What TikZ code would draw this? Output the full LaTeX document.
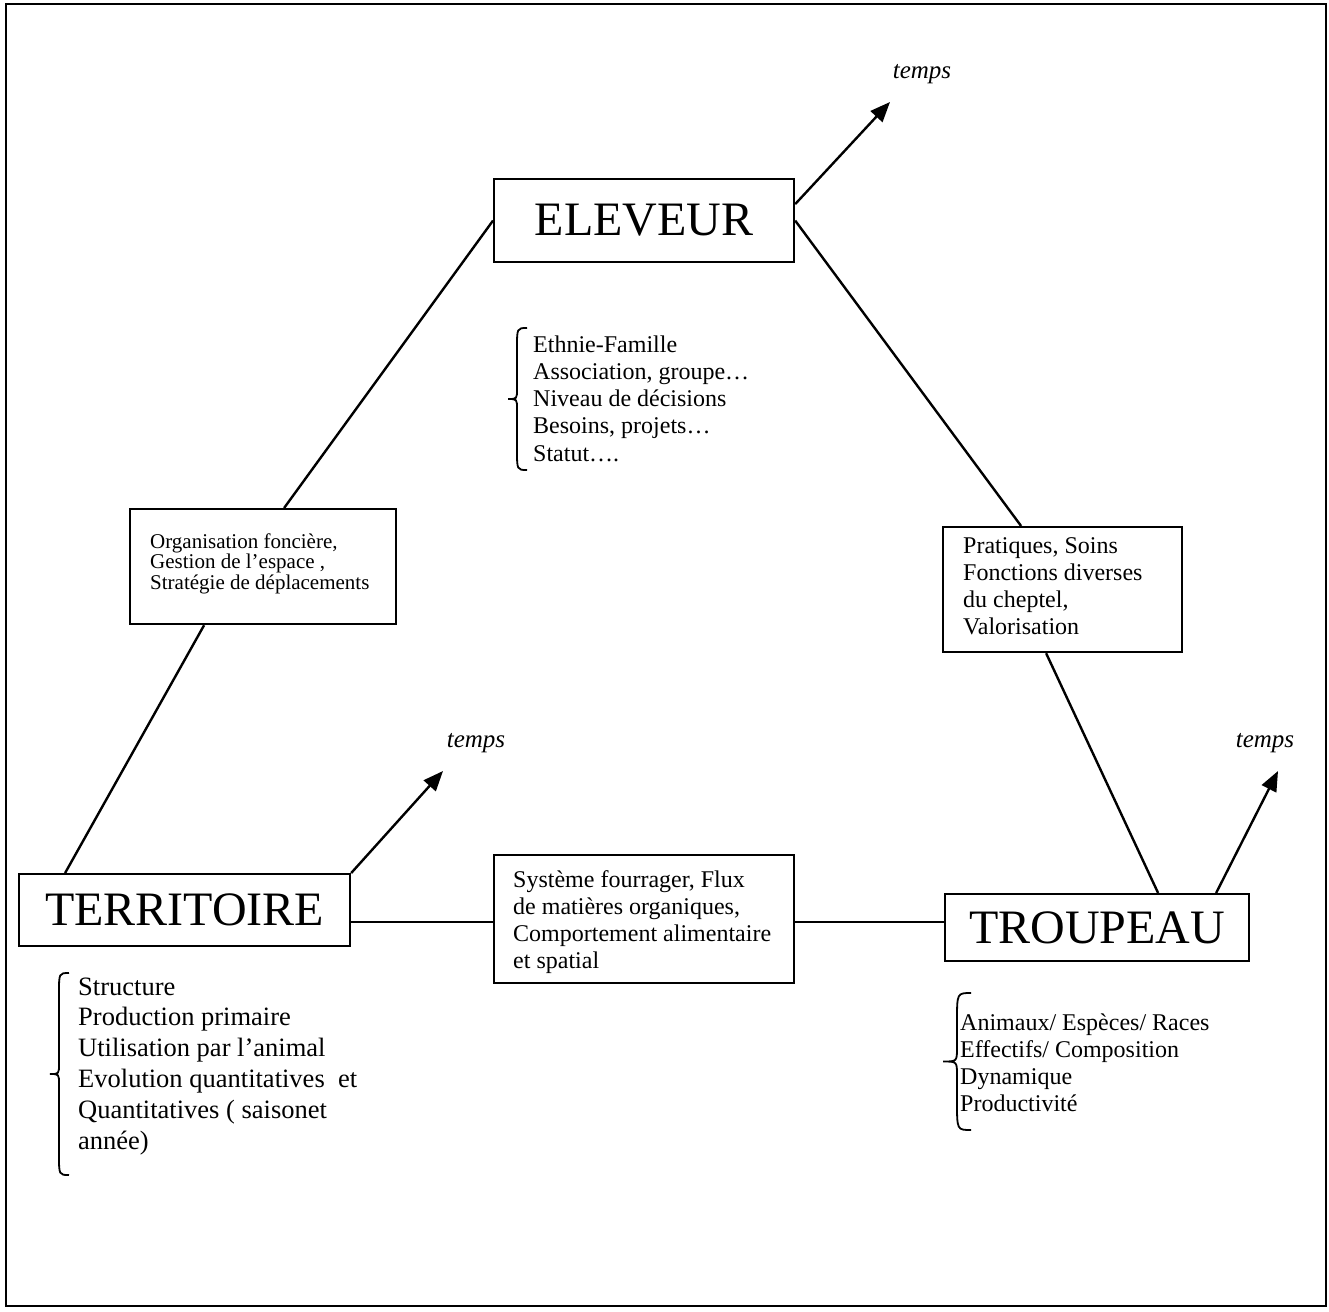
\documentclass[tikz,border=0pt]{standalone}
\usepackage{fontspec}
\setmainfont{Liberation Serif}
\usetikzlibrary{arrows.meta}
\newcommand\mybrace[5]{%
  \draw[bracestyle] ({#1+#4},#2) .. controls (#1,#2) and (#1,#2) .. (#1,{#2+2*#4})
    -- (#1,{(#2+#3)/2-#4}) .. controls (#1,{(#2+#3)/2}) and (#1,{(#2+#3)/2}) .. ({#1-#5},{(#2+#3)/2})
    .. controls (#1,{(#2+#3)/2}) and (#1,{(#2+#3)/2}) .. (#1,{(#2+#3)/2+#4})
    -- (#1,{#3-2*#4}) .. controls (#1,#3) and (#1,#3) .. ({#1+#4},#3);}
\begin{document}
\begin{tikzpicture}[x=1pt,y=-1pt,
  boxstyle/.style={draw, line width=2.2pt, inner sep=0pt, anchor=north west},
  bigbox/.style={boxstyle, font=\fontsize{48}{56}\selectfont},
  conn/.style={line width=2.4pt},
  arr/.style={line width=2.4pt, -{Triangle[length=20pt,width=16pt]}},
  txt/.style={anchor=base west, inner sep=0pt},
  tlabel/.style={inner sep=0pt, font=\fontsize{25}{28}\selectfont\itshape},
  bracestyle/.style={line width=1.8pt}]
\useasboundingbox (0,0) rectangle (1329,1311);
\draw[line width=2pt] (6,4) rectangle (1326,1306);

% main boxes
\node[bigbox, minimum width=300pt, minimum height=83pt] (elev) at (493,178) {ELEVEUR};
\node[bigbox, minimum width=331pt, minimum height=72pt] (terr) at (18,873) {TERRITOIRE};
\node[bigbox, minimum width=304pt, minimum height=67pt] (trou) at (944,893) {TROUPEAU};

% relation boxes
\node[boxstyle, minimum width=266pt, minimum height=115pt] (org) at (129,508) {};
\node[boxstyle, minimum width=239pt, minimum height=125pt] (prat) at (942,526) {};
\node[boxstyle, minimum width=300pt, minimum height=128pt] (sys) at (493,854) {};

\node[txt] (orgtxt) at (150,548) {\fontsize{21}{20.7}\selectfont\lineskiplimit=-100pt\vtop{%
  \hbox{Organisation foncière,}\hbox{Gestion de l’espace ,}\hbox{Stratégie de déplacements}}};
\node[txt] (prattxt) at (963,553) {\fontsize{24}{27}\selectfont\lineskiplimit=-100pt\vtop{%
  \hbox{Pratiques, Soins}\hbox{Fonctions diverses}\hbox{du cheptel,}\hbox{Valorisation}}};
\node[txt] (systxt) at (513,887) {\fontsize{24}{27}\selectfont\lineskiplimit=-100pt\vtop{%
  \hbox{Système fourrager, Flux}\hbox{de matières organiques,}\hbox{Comportement alimentaire}\hbox{et spatial}}};

% lists
\node[txt] (ethn) at (533,352) {\fontsize{24}{27.3}\selectfont\lineskiplimit=-100pt\vtop{%
  \hbox{Ethnie-Famille}\hbox{Association, groupe…}\hbox{Niveau de décisions}\hbox{Besoins, projets…}\hbox{Statut….}}};
\node[txt] (terrlist) at (78,995) {\fontsize{26.5}{30.8}\selectfont\lineskiplimit=-100pt\vtop{%
  \hbox{Structure}\hbox{Production primaire}\hbox{Utilisation par l’animal}\hbox{Evolution quantitatives\ \ et}\hbox{Quantitatives ( saisonet}\hbox{année)}}};
\node[txt] (troulist) at (960,1030) {\fontsize{24}{27}\selectfont\lineskiplimit=-100pt\vtop{%
  \hbox{Animaux/ Espèces/ Races}\hbox{Effectifs/ Composition}\hbox{Dynamique}\hbox{Productivité}}};

\mybrace{517}{328}{470}{10}{9}
\mybrace{59}{973}{1175}{10}{9}
\mybrace{957}{993}{1130}{14}{14}

% connectors
\draw[conn] (elev.west) -- ([xshift=21pt]org.north);
\draw[conn] ([xshift=-59pt]org.south) -- ([xshift=-119.5pt]terr.north);
\draw[conn] (elev.east) -- ([xshift=-41.5pt]prat.north);
\draw[conn] ([xshift=-16.5pt]prat.south) -- ([xshift=61pt]trou.north);
\draw[conn] ([yshift=-12pt]terr.east) -- ([yshift=-3pt]sys.west);
\draw[conn] ([yshift=-3pt]sys.east) -- ([yshift=5.5pt]trou.west);

% time arrows
\coordinate (tipE) at (890,102);
\coordinate (tipT) at (443,771);
\coordinate (tipR) at (1278,771);
\draw[arr] ([yshift=16.5pt]elev.east) -- (tipE);
\draw[arr] (terr.north east) -- (tipT);
\draw[arr] ([xshift=119pt]trou.north) -- (tipR);
\node[tlabel] (tE) at (922,74) {temps};
\node[tlabel] (tT) at (476,743) {temps};
\node[tlabel] (tR) at (1265,743) {temps};
\end{tikzpicture}
\end{document}
